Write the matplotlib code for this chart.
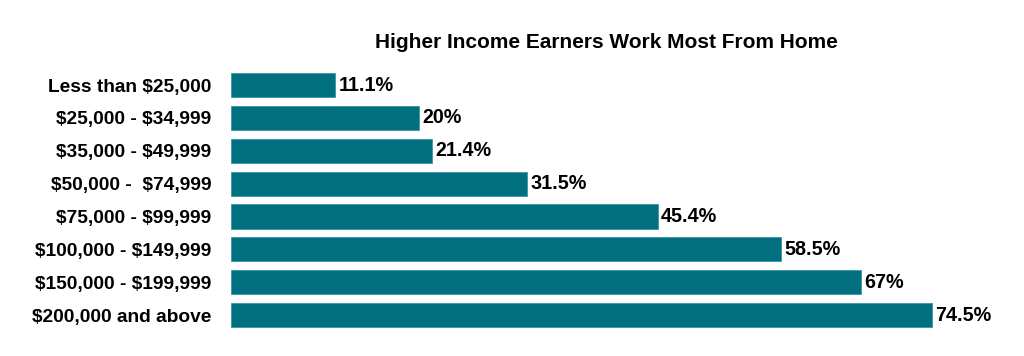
import matplotlib
matplotlib.use("Agg")
from matplotlib import pyplot as plt
import numpy as np

plt.rcParams['font.family'] = ['Liberation Sans', 'DejaVu Sans']
plt.rcParams['text.parse_math'] = False

categories = ["Less than $25,000", "$25,000 - $34,999", "$35,000 - $49,999",
              "$50,000 -  $74,999", "$75,000 - $99,999", "$100,000 - $149,999",
              "$150,000 - $199,999", "$200,000 and above"]
values = [11.1, 20, 21.4, 31.5, 45.4, 58.5, 67, 74.5]
value_labels = ["11.1%", "20%", "21.4%", "31.5%", "45.4%", "58.5%", "67%", "74.5%"]

fig = plt.figure(figsize=(10.24, 3.56), dpi=100)
ax = fig.add_axes([0.2256, 0.069, 0.7534, 0.738])

y = np.arange(len(categories))
bars = ax.barh(y, values, height=0.74, color='#007080', edgecolor='#3d95a2', linewidth=0.6)
ax.set_xlim(0, 82)
ax.set_ylim(len(categories) - 0.5, -0.5)

ax.set_yticks(y)
ax.set_yticklabels(categories, fontsize=13.8, fontweight='bold')
ax.tick_params(axis='y', length=0, pad=14)
ax.set_xticks([])
for s in ax.spines.values():
    s.set_visible(False)

for rect, label in zip(bars, value_labels):
    ax.text(rect.get_width() + 0.3, rect.get_y() + rect.get_height() / 2, label,
            ha='left', va='center', fontsize=14.2, fontweight='bold')

fig.text(0.592, 0.882, "Higher Income Earners Work Most From Home",
         ha='center', va='center', fontsize=15, fontweight='bold')

fig.savefig("out.png", dpi=100)
